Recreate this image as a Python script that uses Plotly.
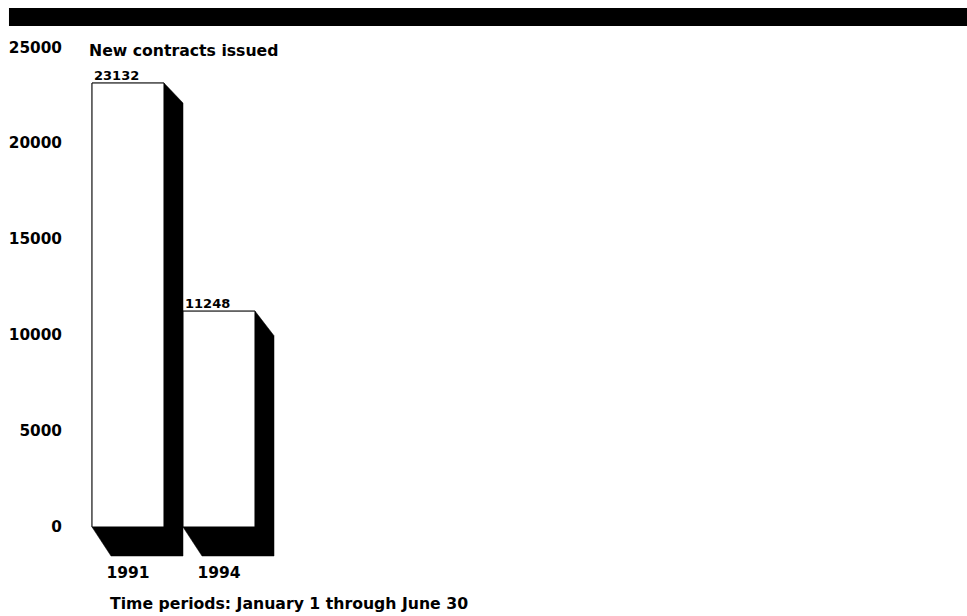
import plotly.graph_objects as go

# ---- data ----
categories = ["1991", "1994"]
values = [23132, 11248]
y_ticks = [0, 5000, 10000, 15000, 20000, 25000]
title_text = "New contracts issued"
x_title_text = "Time periods: January 1 through June 30"

# ---- style constants ----
FONT = "DejaVu Sans"
BAR_W = 0.791          # front face width (category units)
DEPTH_X = 0.209        # shadow offset along x (category units)
BOTTOM_DROP = 1511     # shadow drop at base (value units)
TOP_SCALE = 1.0203     # back-face vertical scale

Y_MIN, Y_MAX = -1563, 25373
X_MIN, X_MAX = -0.6923, 9.033

xs = list(range(len(categories)))

fig = go.Figure()

# front faces
fig.add_trace(go.Bar(
    x=xs, y=values, width=BAR_W,
    marker=dict(color="white", line=dict(color="black", width=1)),
    hoverinfo="skip", showlegend=False,
))

shapes = []
# black strip at top
shapes.append(dict(type="rect", xref="paper", yref="paper",
                   x0=-0.0633, x1=1.05, y0=1.027, y1=1.062,
                   fillcolor="black", line=dict(width=0), layer="above"))

# 3-D shadows, computed from data
for x, v in zip(xs, values):
    L = x - BAR_W / 2
    R = x + BAR_W / 2
    b0 = -BOTTOM_DROP
    bv = v * TOP_SCALE - BOTTOM_DROP
    path = (f"M {L},0 L {L},{v} L {R},{v} L {R + DEPTH_X},{bv} "
            f"L {R + DEPTH_X},{b0} L {L + DEPTH_X},{b0} Z")
    shapes.append(dict(type="path", xref="x", yref="y", path=path,
                       fillcolor="black", line=dict(color="black", width=0.5),
                       layer="below"))

annotations = []
for x, v in zip(xs, values):
    annotations.append(dict(x=x - BAR_W / 2, y=v, xref="x", yref="y",
                            text=f"<b>{v}</b>", showarrow=False,
                            xanchor="left", yanchor="bottom", xshift=0, yshift=-2,
                            font=dict(family=FONT, size=13, color="black")))

annotations.append(dict(x=-0.45, y=25000, xref="x", yref="y",
                        text=f"<b>{title_text}</b>", showarrow=False,
                        xanchor="left", yanchor="middle", yshift=-3,
                        font=dict(family=FONT, size=15.7, color="black")))
annotations.append(dict(x=-0.215, y=-0.0909, xref="x", yref="paper",
                        text=f"<b>{x_title_text}</b>", showarrow=False,
                        xanchor="left", yanchor="middle",
                        font=dict(family=FONT, size=15.7, color="black")))

fig.update_layout(
    width=967, height=616,
    margin=dict(l=65, r=17, t=40, b=59),
    paper_bgcolor="white", plot_bgcolor="white",
    shapes=shapes, annotations=annotations,
    showlegend=False,
    xaxis=dict(range=[X_MIN, X_MAX], tickvals=xs, ticktext=categories,
               showgrid=False, zeroline=False, showline=False, ticks="",
               ticklabelstandoff=4, automargin=False,
               tickfont=dict(family=FONT, size=15.5, color="black", weight="bold")),
    yaxis=dict(range=[Y_MIN, Y_MAX], tickvals=y_ticks,
               ticktext=[str(t) for t in y_ticks],
               showgrid=False, zeroline=False, showline=False, ticks="",
               ticklabelstandoff=2, automargin=False,
               tickfont=dict(family=FONT, size=15.3, color="black", weight="bold")),
)

fig.write_html("out.html", config={"displayModeBar": False},
               post_script="document.body.style.margin='0';document.body.style.overflow='hidden';")
